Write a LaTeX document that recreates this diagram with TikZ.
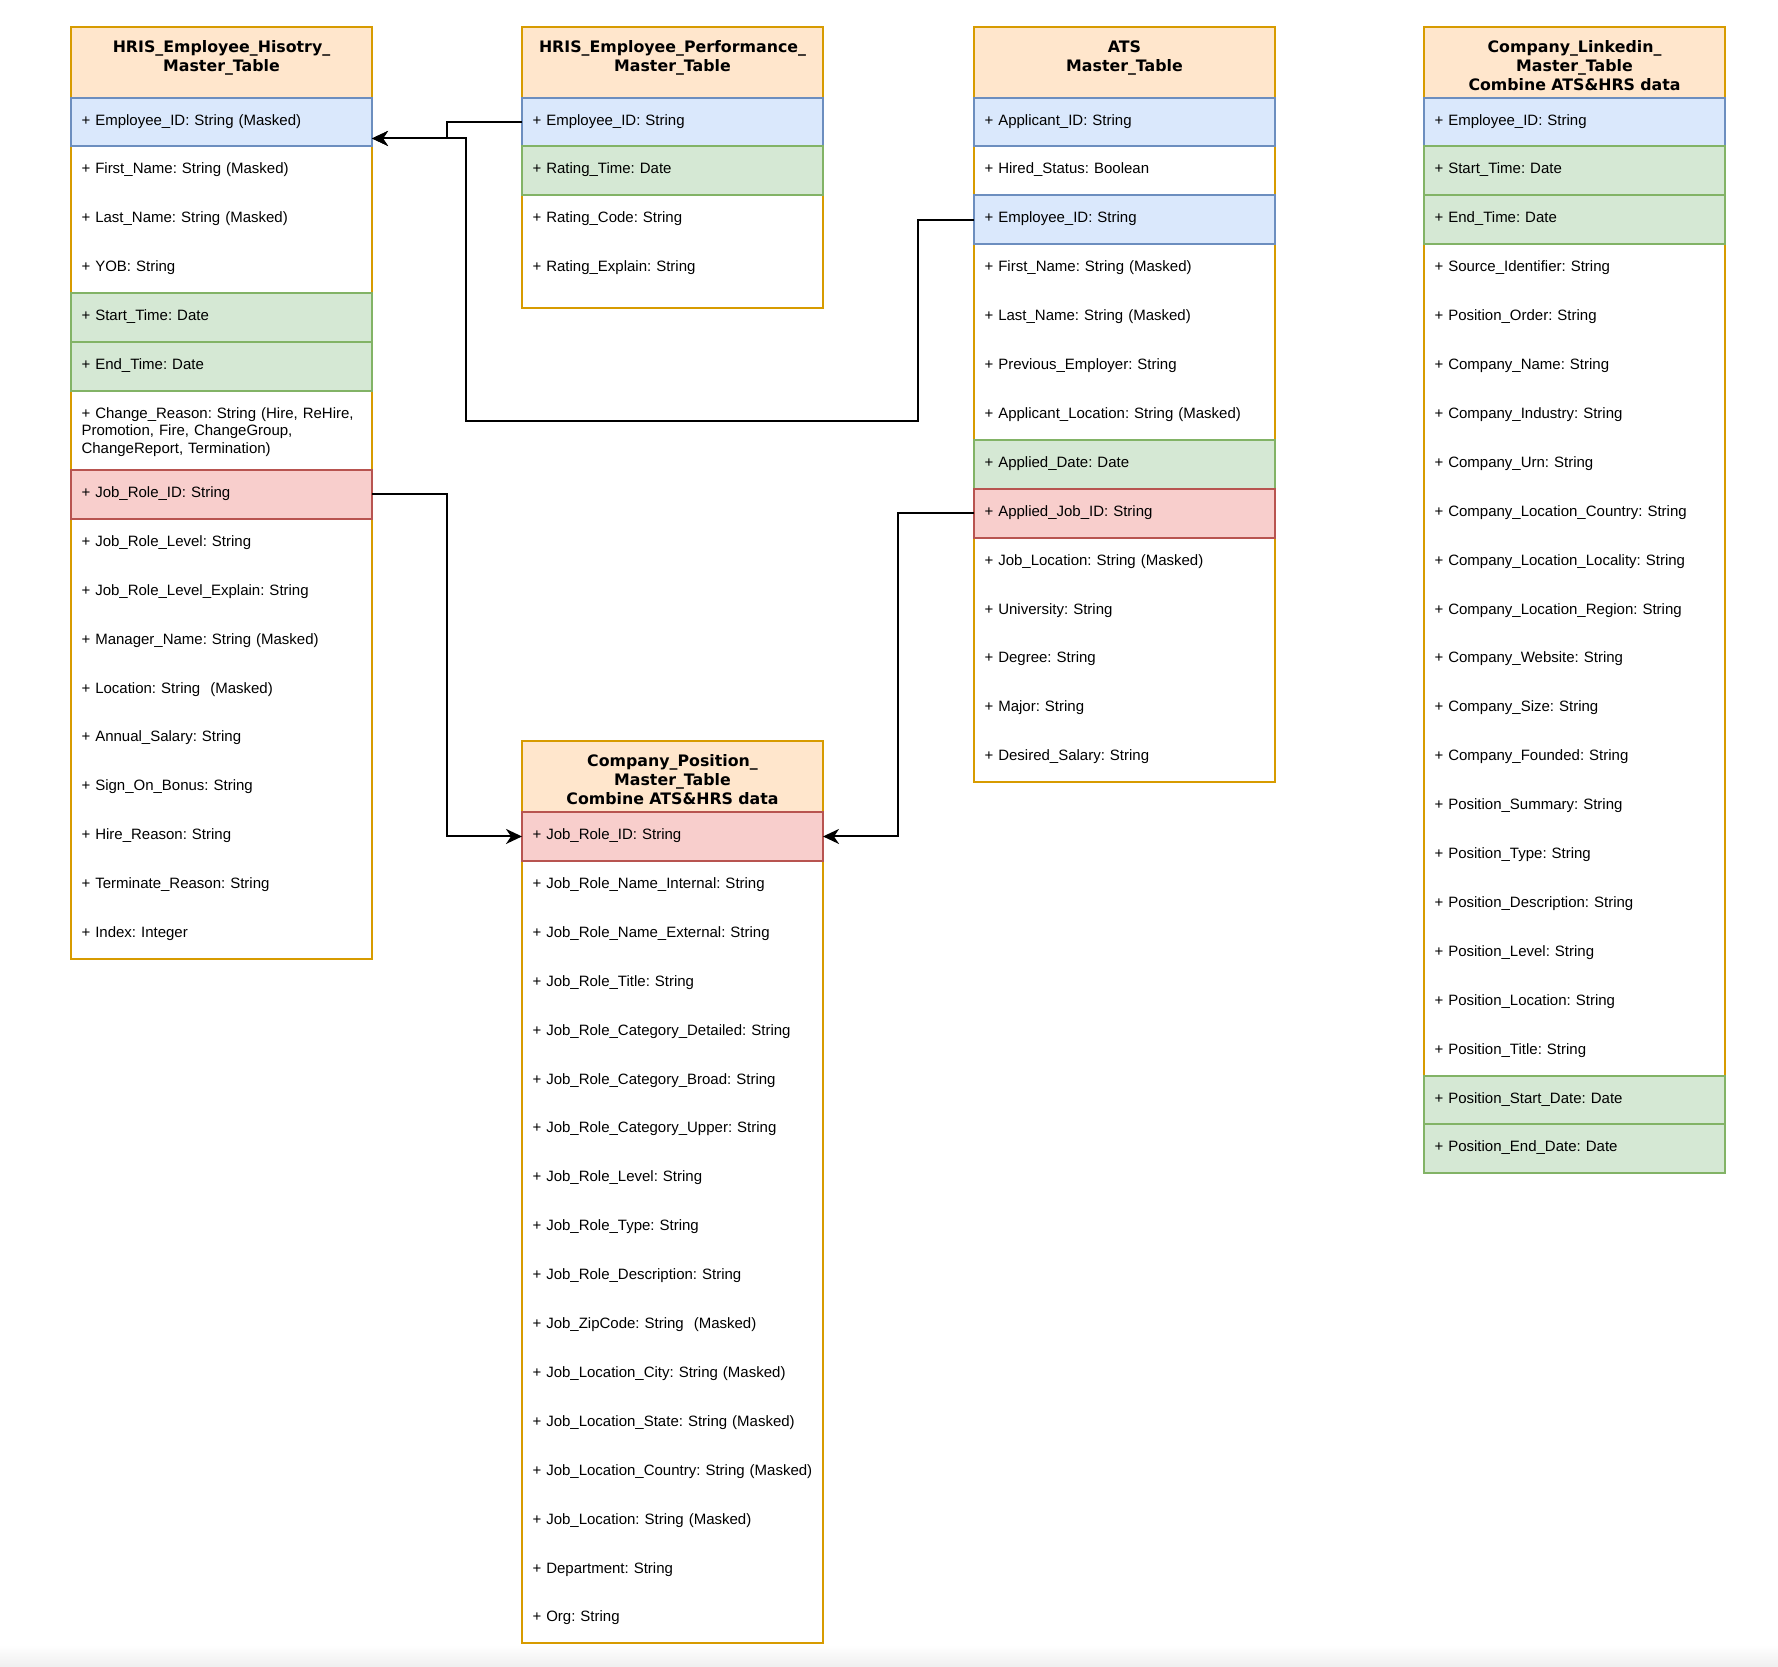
\documentclass[tikz,border=0pt]{standalone}
\usepackage{fontspec}
\setmainfont{Liberation Sans}
\newfontfamily\hdrfamily{DejaVu Sans}
\usepackage{tikz}
\usetikzlibrary{arrows.meta,positioning,calc,backgrounds}
\frenchspacing
\definecolor{hdrfill}{HTML}{FFE6CC}
\definecolor{hdrline}{HTML}{D79B00}
\definecolor{keyfill}{HTML}{DAE8FC}
\definecolor{keyline}{HTML}{6C8EBF}
\definecolor{datefill}{HTML}{D5E8D4}
\definecolor{dateline}{HTML}{82B366}
\definecolor{fkfill}{HTML}{F8CECC}
\definecolor{fkline}{HTML}{B85450}

\begin{document}
\begin{tikzpicture}[x=1pt,y=-1pt,
  hdrbox/.style={draw=hdrline, fill=hdrfill, line width=2pt, outer sep=0pt,
    minimum width=301pt, text width=291pt, inner xsep=5pt, inner ysep=0pt,
    align=center, text height=25.8pt, text depth=45.2pt,
    font=\hdrfamily\bfseries\fontsize{15.8}{19}\selectfont},
  plainrow/.style={outer sep=0pt, minimum width=301pt, text width=293pt,
    inner xsep=4pt, inner ysep=0pt, align=left, text height=27.5pt,
    text depth=21.4pt, font=\fontsize{15}{17.5}\selectfont,
    execute at begin node={\leftskip=6.5pt\relax}},
  keyrow/.style={plainrow, draw=keyline, fill=keyfill, line width=2pt},
  daterow/.style={plainrow, draw=dateline, fill=datefill, line width=2pt},
  fkrow/.style={plainrow, draw=fkline, fill=fkfill, line width=2pt},
  tallrow/.style={plainrow, text depth=51.5pt},
  tblframe/.style={draw=hdrline, line width=2pt},
  link/.style={-{Stealth[length=16pt,width=15pt,inset=5pt]}, line width=2pt},
  node distance=0pt
]
\useasboundingbox (0,0) rectangle (1778,1666);

% HRIS history table
\node[hdrbox, anchor=north west] (hisHead) at (71,26.5) {HRIS\_Employee\_Hisotry\_\\Master\_Table};
\node[keyrow,   below=of hisHead]    (hisEmpID)   {+ Employee\_ID: String (Masked)};
\node[plainrow, below=of hisEmpID]   (hisFirst)   {+ First\_Name: String (Masked)};
\node[plainrow, below=of hisFirst]   (hisLast)    {+ Last\_Name: String (Masked)};
\node[plainrow, below=of hisLast]    (hisYOB)     {+ YOB: String};
\node[daterow,  below=of hisYOB]     (hisStart)   {+ Start\_Time: Date};
\node[daterow,  below=of hisStart]   (hisEnd)     {+ End\_Time: Date};
\node[tallrow,  below=of hisEnd]     (hisReason)  {+ Change\_Reason: String (Hire, ReHire,\\Promotion, Fire, ChangeGroup,\\ChangeReport, Termination)};
\node[fkrow,    below=of hisReason]  (hisJobID)   {+ Job\_Role\_ID: String};
\node[plainrow, below=of hisJobID]   (hisLevel)   {+ Job\_Role\_Level: String};
\node[plainrow, below=of hisLevel]   (hisExplain) {+ Job\_Role\_Level\_Explain: String};
\node[plainrow, below=of hisExplain] (hisManager) {+ Manager\_Name: String (Masked)};
\node[plainrow, below=of hisManager] (hisLoc)     {+ Location: String\ \ (Masked)};
\node[plainrow, below=of hisLoc]     (hisSalary)  {+ Annual\_Salary: String};
\node[plainrow, below=of hisSalary]  (hisBonus)   {+ Sign\_On\_Bonus: String};
\node[plainrow, below=of hisBonus]   (hisHire)    {+ Hire\_Reason: String};
\node[plainrow, below=of hisHire]    (hisTerm)    {+ Terminate\_Reason: String};
\node[plainrow, below=of hisTerm]    (hisIndex)   {+ Index: Integer};

% HRIS performance table
\node[hdrbox, anchor=north west] (perfHead) at (522,26.5) {HRIS\_Employee\_Performance\_\\Master\_Table};
\node[keyrow,   below=of perfHead]  (perfEmpID)   {+ Employee\_ID: String};
\node[daterow,  below=of perfEmpID] (perfTime)    {+ Rating\_Time: Date};
\node[plainrow, below=of perfTime]  (perfCode)    {+ Rating\_Code: String};
\node[plainrow, below=of perfCode]  (perfExplain) {+ Rating\_Explain: String};

% ATS table
\node[hdrbox, anchor=north west] (atsHead) at (974,26.5) {ATS\\Master\_Table};
\node[keyrow,   below=of atsHead]   (atsAppID)  {+ Applicant\_ID: String};
\node[plainrow, below=of atsAppID]  (atsHired)  {+ Hired\_Status: Boolean};
\node[keyrow,   below=of atsHired]  (atsEmpID)  {+ Employee\_ID: String};
\node[plainrow, below=of atsEmpID]  (atsFirst)  {+ First\_Name: String (Masked)};
\node[plainrow, below=of atsFirst]  (atsLast)   {+ Last\_Name: String (Masked)};
\node[plainrow, below=of atsLast]   (atsPrev)   {+ Previous\_Employer: String};
\node[plainrow, below=of atsPrev]   (atsLoc)    {+ Applicant\_Location: String (Masked)};
\node[daterow,  below=of atsLoc]    (atsDate)   {+ Applied\_Date: Date};
\node[fkrow,    below=of atsDate]   (atsJobID)  {+ Applied\_Job\_ID: String};
\node[plainrow, below=of atsJobID]  (atsJobLoc) {+ Job\_Location: String (Masked)};
\node[plainrow, below=of atsJobLoc] (atsUni)    {+ University: String};
\node[plainrow, below=of atsUni]    (atsDegree) {+ Degree: String};
\node[plainrow, below=of atsDegree] (atsMajor)  {+ Major: String};
\node[plainrow, below=of atsMajor]  (atsSalary) {+ Desired\_Salary: String};

% LinkedIn table
\node[hdrbox, anchor=north west] (lnkHead) at (1424,26.5) {Company\_Linkedin\_\\Master\_Table\\Combine ATS\&HRS data};
\node[keyrow,   below=of lnkHead]     (lnkEmpID)    {+ Employee\_ID: String};
\node[daterow,  below=of lnkEmpID]    (lnkStart)    {+ Start\_Time: Date};
\node[daterow,  below=of lnkStart]    (lnkEnd)      {+ End\_Time: Date};
\node[plainrow, below=of lnkEnd]      (lnkSource)   {+ Source\_Identifier: String};
\node[plainrow, below=of lnkSource]   (lnkOrder)    {+ Position\_Order: String};
\node[plainrow, below=of lnkOrder]    (lnkName)     {+ Company\_Name: String};
\node[plainrow, below=of lnkName]     (lnkIndustry) {+ Company\_Industry: String};
\node[plainrow, below=of lnkIndustry] (lnkUrn)      {+ Company\_Urn: String};
\node[plainrow, below=of lnkUrn]      (lnkCountry)  {+ Company\_Location\_Country: String};
\node[plainrow, below=of lnkCountry]  (lnkLocality) {+ Company\_Location\_Locality: String};
\node[plainrow, below=of lnkLocality] (lnkRegion)   {+ Company\_Location\_Region: String};
\node[plainrow, below=of lnkRegion]   (lnkWebsite)  {+ Company\_Website: String};
\node[plainrow, below=of lnkWebsite]  (lnkSize)     {+ Company\_Size: String};
\node[plainrow, below=of lnkSize]     (lnkFounded)  {+ Company\_Founded: String};
\node[plainrow, below=of lnkFounded]  (lnkSummary)  {+ Position\_Summary: String};
\node[plainrow, below=of lnkSummary]  (lnkType)     {+ Position\_Type: String};
\node[plainrow, below=of lnkType]     (lnkDesc)     {+ Position\_Description: String};
\node[plainrow, below=of lnkDesc]     (lnkLevel)    {+ Position\_Level: String};
\node[plainrow, below=of lnkLevel]    (lnkLoc)      {+ Position\_Location: String};
\node[plainrow, below=of lnkLoc]      (lnkTitle)    {+ Position\_Title: String};
\node[daterow,  below=of lnkTitle]    (lnkPStart)   {+ Position\_Start\_Date: Date};
\node[daterow,  below=of lnkPStart]   (lnkPEnd)     {+ Position\_End\_Date: Date};

% company position table
\node[hdrbox, anchor=north west] (posHead) at (522,741) {Company\_Position\_\\Master\_Table\\Combine ATS\&HRS data};
\node[fkrow,    below=of posHead]     (posJobID)    {+ Job\_Role\_ID: String};
\node[plainrow, below=of posJobID]    (posInternal) {+ Job\_Role\_Name\_Internal: String};
\node[plainrow, below=of posInternal] (posExternal) {+ Job\_Role\_Name\_External: String};
\node[plainrow, below=of posExternal] (posTitle)    {+ Job\_Role\_Title: String};
\node[plainrow, below=of posTitle]    (posDetailed) {+ Job\_Role\_Category\_Detailed: String};
\node[plainrow, below=of posDetailed] (posBroad)    {+ Job\_Role\_Category\_Broad: String};
\node[plainrow, below=of posBroad]    (posUpper)    {+ Job\_Role\_Category\_Upper: String};
\node[plainrow, below=of posUpper]    (posLevel)    {+ Job\_Role\_Level: String};
\node[plainrow, below=of posLevel]    (posType)     {+ Job\_Role\_Type: String};
\node[plainrow, below=of posType]     (posDesc)     {+ Job\_Role\_Description: String};
\node[plainrow, below=of posDesc]     (posZip)      {+ Job\_ZipCode: String\ \ (Masked)};
\node[plainrow, below=of posZip]      (posCity)     {+ Job\_Location\_City: String (Masked)};
\node[plainrow, below=of posCity]     (posState)    {+ Job\_Location\_State: String (Masked)};
\node[plainrow, below=of posState]    (posCountry)  {+ Job\_Location\_Country: String (Masked)};
\node[plainrow, below=of posCountry]  (posLoc)      {+ Job\_Location: String (Masked)};
\node[plainrow, below=of posLoc]      (posDept)     {+ Department: String};
\node[plainrow, below=of posDept]     (posOrg)      {+ Org: String};

% table frames behind the rows
\begin{scope}[on background layer]
  \shade[top color=white, bottom color=black!6] (0,1645) rectangle (1778,1666);
  \draw[tblframe] (hisHead.north west) rectangle (hisIndex.south east);
  \draw[tblframe] (perfHead.north west) rectangle ($(perfExplain.south east)+(0,15)$);
  \draw[tblframe] (atsHead.north west) rectangle (atsSalary.south east);
  \draw[tblframe] (lnkHead.north west) rectangle (lnkPEnd.south east);
  \draw[tblframe] (posHead.north west) rectangle (posOrg.south east);
\end{scope}

% links
\coordinate (empIn) at ($(hisEmpID.east)+(0,16.5)$);
\coordinate (empBend) at ($(empIn)+(94,0)$);
\draw[link] (perfEmpID.west) -- ++(-75,0) |- (empIn);
\draw[link] (atsEmpID.west) -- ++(-56,0) -- ++(0,201.5) -| (empBend) -- (empIn);
\draw[link] (hisJobID.east) -- ++(75,0) |- (posJobID.west);
\draw[link] (atsJobID.west) -- ++(-76,0) |- (posJobID.east);
\end{tikzpicture}
\end{document}
